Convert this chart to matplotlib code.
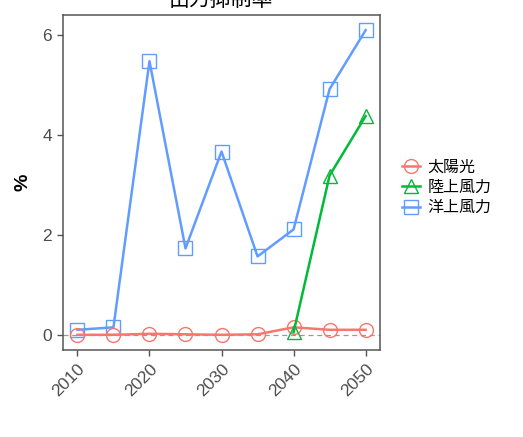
import matplotlib
matplotlib.use("Agg")
import matplotlib.pyplot as plt

plt.rcParams["font.family"] = ["Liberation Sans", "Noto Sans CJK JP", "DejaVu Sans"]

# 出力抑制率 (%)
years = [2010, 2015, 2020, 2025, 2030, 2035, 2040, 2045, 2050]
solar = [0.00, 0.00, 0.02, 0.01, 0.00, 0.01, 0.15, 0.10, 0.10]
onshore_years = [2040, 2045, 2050]
onshore = [0.05, 3.19, 4.38]
offshore = [0.10, 0.15, 5.48, 1.73, 3.67, 1.57, 2.11, 4.92, 6.10]

series_names = ["太陽光", "陸上風力", "洋上風力"]
series_colors = ["#F8766D", "#00BA38", "#619CFF"]
x_ticks = [2010, 2020, 2030, 2040, 2050]
y_ticks = [0, 2, 4, 6]

fig = plt.figure(figsize=(5.23, 4.37), dpi=100)
ax = fig.add_axes([0.1205, 0.199, 0.6061, 0.7667])

ax.axhline(0, color="#9A9A9A", lw=0.9, ls=(0, (4, 3)), zorder=1)

marker_kw = dict(markerfacecolor="none", markersize=10, markeredgewidth=1.0)
ax.plot(years, solar, color=series_colors[0], lw=1.8, marker="o",
        label=series_names[0], zorder=3, **marker_kw)
ax.plot(onshore_years, onshore, color=series_colors[1], lw=1.8, marker="^",
        label=series_names[1], zorder=3, **marker_kw)
ax.plot(years, offshore, color=series_colors[2], lw=1.8, marker="s",
        label=series_names[2], zorder=2, **marker_kw)

ax.set_xlim(2008, 2052)
ax.set_ylim(-0.305, 6.405)
ax.set_xticks(x_ticks)
ax.set_yticks(y_ticks)
ax.set_xticklabels([str(t) for t in x_ticks], rotation=45, ha="right",
                   rotation_mode="anchor", fontsize=12.5, color="#4D4D4D")
ax.set_yticklabels([str(t) for t in y_ticks], fontsize=12.5, color="#4D4D4D")
ax.tick_params(direction="out", length=4, width=1, color="#555555", pad=4)
for sp in ax.spines.values():
    sp.set_color("#555555")
    sp.set_linewidth(1.1)

ax.set_ylabel("%", fontsize=14, fontweight="bold", labelpad=8)

fig.text(0.4226, 1.0, "出力抑制率", ha="center", va="center", fontsize=15,
         family=["Noto Sans CJK JP", "DejaVu Sans"])

leg = ax.legend(loc="center left", bbox_to_anchor=(1.05, 0.485), frameon=False,
                fontsize=11.5, handlelength=1.1, handletextpad=0.5,
                labelspacing=0.2, borderaxespad=0)
for t in leg.get_texts():
    t.set_family(["Noto Sans CJK JP", "DejaVu Sans"])

fig.savefig("out.png", dpi=100)
